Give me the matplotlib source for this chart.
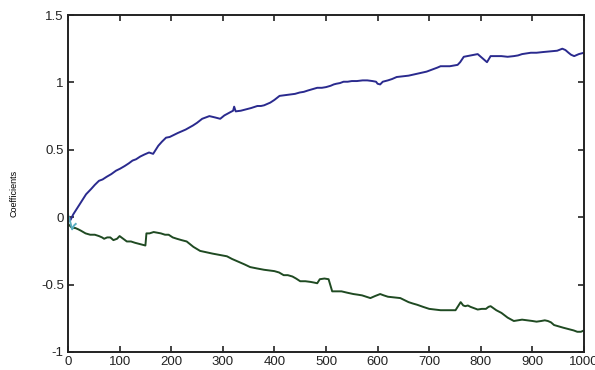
import matplotlib
matplotlib.use("Agg")
import matplotlib.pyplot as plt

# ---- data ----
blue_x = [0, 5, 10, 15, 20, 25, 30, 35, 40, 45, 52, 60, 67, 75, 84, 93, 101, 110,
          118, 125, 132, 140, 148, 157, 165, 170, 175, 182, 190, 197, 205, 213, 222,
          228, 235, 242, 250, 255, 260, 267, 274, 280, 285, 290, 295, 303, 310, 315,
          320, 322, 325, 335, 345, 355, 367, 374, 380, 386, 392, 400, 405, 410, 420,
          430, 440, 449, 457, 465, 474, 483, 492, 500, 509, 515, 520, 527, 534, 542,
          550, 560, 571, 580, 590, 597, 600, 605, 610, 620, 628, 637, 648, 660, 672,
          683, 695, 709, 716, 722, 730, 740, 748, 755, 760, 767, 774, 780, 787, 794,
          800, 806, 812, 819, 830, 840, 852, 864, 872, 880, 888, 897, 908, 920, 935,
          948, 958, 964, 970, 975, 981, 990, 1000]
blue_y = [-0.03, -0.02, 0.02, 0.05, 0.08, 0.11, 0.14, 0.17, 0.19, 0.21, 0.24, 0.27,
          0.28, 0.30, 0.32, 0.345, 0.36, 0.38, 0.40, 0.42, 0.43, 0.45, 0.465, 0.48,
          0.47, 0.50, 0.53, 0.56, 0.59, 0.595, 0.61, 0.625, 0.64, 0.65, 0.665, 0.68,
          0.70, 0.715, 0.73, 0.74, 0.75, 0.745, 0.74, 0.735, 0.73, 0.755, 0.77, 0.78,
          0.79, 0.82, 0.785, 0.79, 0.80, 0.81, 0.825, 0.825, 0.83, 0.84, 0.85, 0.87,
          0.885, 0.90, 0.905, 0.91, 0.915, 0.925, 0.93, 0.94, 0.95, 0.96, 0.96, 0.965,
          0.975, 0.985, 0.99, 0.995, 1.005, 1.005, 1.01, 1.01, 1.015, 1.015, 1.01,
          1.005, 0.99, 0.985, 1.005, 1.015, 1.025, 1.04, 1.045, 1.05, 1.06, 1.07,
          1.08, 1.10, 1.11, 1.12, 1.12, 1.12, 1.125, 1.13, 1.15, 1.19, 1.195, 1.20,
          1.205, 1.21, 1.19, 1.17, 1.15, 1.195, 1.195, 1.195, 1.19, 1.195, 1.20, 1.21,
          1.215, 1.22, 1.22, 1.225, 1.23, 1.235, 1.25, 1.24, 1.22, 1.205, 1.195, 1.21,
          1.22]

green_x = [0, 8, 14, 20, 25, 34, 43, 52, 60, 66, 70, 76, 82, 88, 95, 100, 107, 114,
           122, 130, 140, 150, 152, 158, 166, 173, 180, 188, 195, 203, 211, 220, 230,
           243, 256, 268, 280, 294, 308, 318, 330, 342, 353, 366, 380, 390, 400, 409,
           418, 426, 435, 442, 450, 460, 470, 477, 483, 488, 497, 505, 512, 521, 530,
           541, 553, 562, 570, 578, 586, 595, 605, 612, 620, 632, 644, 652, 660, 668,
           677, 688, 700, 711, 722, 736, 751, 756, 761, 766, 770, 775, 780, 787, 794,
           802, 810, 815, 819, 830, 840, 852, 864, 872, 880, 890, 900, 908, 917, 924,
           930, 936, 942, 951, 960, 970, 980, 987, 994, 1000]
green_y = [-0.05, -0.08, -0.08, -0.09, -0.10, -0.12, -0.13, -0.13, -0.14, -0.15,
           -0.16, -0.15, -0.15, -0.17, -0.16, -0.14, -0.16, -0.18, -0.18, -0.19,
           -0.20, -0.21, -0.12, -0.12, -0.11, -0.115, -0.12, -0.13, -0.13, -0.15,
           -0.16, -0.17, -0.18, -0.22, -0.25, -0.26, -0.27, -0.28, -0.29, -0.31,
           -0.33, -0.35, -0.37, -0.38, -0.39, -0.395, -0.40, -0.41, -0.43, -0.43,
           -0.44, -0.455, -0.475, -0.475, -0.48, -0.485, -0.49, -0.46, -0.455,
           -0.46, -0.55, -0.55, -0.55, -0.56, -0.57, -0.575, -0.58, -0.59, -0.60,
           -0.585, -0.57, -0.58, -0.59, -0.595, -0.60, -0.615, -0.63, -0.64, -0.65,
           -0.665, -0.68, -0.685, -0.69, -0.69, -0.69, -0.66, -0.63, -0.655, -0.66,
           -0.655, -0.665, -0.675, -0.685, -0.68, -0.68, -0.665, -0.66, -0.69, -0.71,
           -0.745, -0.77, -0.765, -0.76, -0.765, -0.77, -0.775, -0.77, -0.765, -0.77,
           -0.78, -0.80, -0.81, -0.82, -0.83, -0.84, -0.85, -0.85, -0.84]

cyan_x = [0, 4, 8, 12, 15]
cyan_y = [0.02, -0.03, -0.09, -0.06, -0.05]

x_ticks = [0, 100, 200, 300, 400, 500, 600, 700, 800, 900, 1000]
y_ticks = [-1, -0.5, 0, 0.5, 1, 1.5]
y_tick_labels = ["-1", "-0.5", "0", "0.5", "1", "1.5"]

# ---- plot ----
plt.rcParams["font.family"] = ["Liberation Sans", "DejaVu Sans"]

fig = plt.figure(figsize=(5.95, 3.7), dpi=100)
ax = fig.add_axes([68 / 595, 18 / 370, 516 / 595, 337 / 370])

ax.plot(blue_x, blue_y, color="#2a2a8e", lw=1.4)
ax.plot(green_x, green_y, color="#1f4a22", lw=1.4)
ax.plot(cyan_x, cyan_y, color="#5aaec0", lw=1.4)

ax.set_xlim(0, 1000)
ax.set_ylim(-1, 1.5)
ax.set_xticks(x_ticks)
ax.set_yticks(y_ticks)
ax.set_yticklabels(y_tick_labels)
ax.tick_params(direction="in", length=4, width=1.2, labelsize=9.5,
               top=True, right=True, pad=3, colors="#222222")
for s in ax.spines.values():
    s.set_linewidth(1.4)
    s.set_color("#222222")

ax.set_ylabel("Coefficients", fontsize=6.5)
ax.yaxis.set_label_coords(-0.095, 0.47)

fig.savefig("out.png", dpi=100, facecolor="white")
